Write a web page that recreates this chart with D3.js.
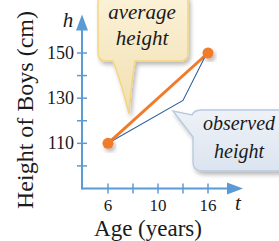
<!DOCTYPE html>
<html><head><meta charset="utf-8">
<script src="https://cdn.jsdelivr.net/npm/d3@7/dist/d3.min.js"></script>
<style>body{margin:0;background:#fff}svg{display:block}</style>
</head><body>
<script>
// ---- data ----
const ages = [6, 16];
const averageHeights = [110, 150];
const observedAges = [6, 13, 16];
const observedHeights = [110, 129, 151];
const xTickValues = [6, 8, 10, 13, 16];
const xTickLabels = {6: "6", 10: "10", 16: "16"};
const yTickValues = [100, 110, 120, 130, 140, 150];
const yTickLabels = {110: "110", 130: "130", 150: "150"};
const xTitle = "Age (years)";
const yTitle = "Height of Boys (cm)";
const avgNote = ["average", "height"];
const obsNote = ["observed", "height"];

const W = 279, H = 241;
const svg = d3.select("body").append("svg").attr("width", W).attr("height", H);
const defs = svg.append("defs");
const f = defs.append("filter").attr("id", "sh").attr("x", "-30%").attr("y", "-30%").attr("width", "160%").attr("height", "160%");
f.append("feDropShadow").attr("dx", 2).attr("dy", 3).attr("stdDeviation", 2.2).attr("flood-color", "#000").attr("flood-opacity", 0.28);
const g1 = defs.append("linearGradient").attr("id", "gy").attr("x1", 0).attr("y1", 0).attr("x2", 0).attr("y2", 1);
g1.append("stop").attr("offset", "0%").attr("stop-color", "#fbf2d8");
g1.append("stop").attr("offset", "100%").attr("stop-color", "#f1dfb0");
const g2 = defs.append("linearGradient").attr("id", "gb").attr("x1", 0).attr("y1", 0).attr("x2", 0).attr("y2", 1);
g2.append("stop").attr("offset", "0%").attr("stop-color", "#eef2f8");
g2.append("stop").attr("offset", "100%").attr("stop-color", "#dbe4ef");

// scales (axis illustration uses evenly spaced ticks)
const x = d3.scaleLinear().domain([6, 10, 16]).range([108, 158, 208]);
const y = d3.scaleLinear().domain([90, 150]).range([188.5, 53]);
const x0 = x(3.92), y0 = y(90);
const xEnd = x(20.2), yEnd = y(167);

const axisColor = "#5b9bd5";
const serif = "'Liberation Serif','Times New Roman',serif";

// ---- callouts ----
function callout(pathD, fill, stroke) {
  svg.append("path").attr("d", pathD).attr("fill", fill).attr("stroke", stroke)
    .attr("stroke-width", 1.4).attr("filter", "url(#sh)");
}
{
  const L = 98, R = 188, T = -6, B = 61, r = 8;
  const d = `M${L + r},${T} H${R - r} Q${R},${T} ${R},${T + r} V${B - r} Q${R},${B} ${R - r},${B}
    H135 Q131,85 129,114 Q122,85 113,${B} H${L + r} Q${L},${B} ${L},${B - r} V${T + r} Q${L},${T} ${L + r},${T} Z`;
  callout(d, "url(#gy)", "#f4d47e");
}
{
  const L = 193, R = 290, T = 110, B = 171, r = 9;
  const d = `M${L + r},${T} H${R - r} Q${R},${T} ${R},${T + r} V${B - r} Q${R},${B} ${R - r},${B}
    H${L + r} Q${L},${B} ${L},${B - r} V137 L173,111 L${L - 1},${T + 5} Q${L + 1},${T} ${L + r},${T} Z`;
  callout(d, "url(#gb)", "#b9c9de");
}
svg.append("g").selectAll("text").data(avgNote).join("text")
  .attr("x", 142).attr("y", (d, i) => 19 + i * 26)
  .attr("text-anchor", "middle").attr("font-family", serif).attr("font-style", "italic")
  .attr("font-size", 21).attr("fill", "#1a1a1a").text(d => d);
svg.append("g").selectAll("text").data(obsNote).join("text")
  .attr("x", 239).attr("y", (d, i) => 130 + i * 28)
  .attr("text-anchor", "middle").attr("font-family", serif).attr("font-style", "italic")
  .attr("font-size", 20).attr("fill", "#1a1a1a").text(d => d);

// ---- axes ----
const ax = svg.append("g");
ax.append("line").attr("x1", x0).attr("y1", y0).attr("x2", xEnd - 10).attr("y2", y0)
  .attr("stroke", axisColor).attr("stroke-width", 2);
ax.append("line").attr("x1", x0).attr("y1", y0 + 1).attr("x2", x0).attr("y2", yEnd + 10)
  .attr("stroke", axisColor).attr("stroke-width", 2);
ax.append("path").attr("d", `M${xEnd},${y0} L${xEnd - 16},${y0 - 6} L${xEnd - 16},${y0 + 6} Z`).attr("fill", axisColor);
ax.append("path").attr("d", `M${x0},${yEnd} L${x0 - 6},${yEnd + 16} L${x0 + 6},${yEnd + 16} Z`).attr("fill", axisColor);
ax.selectAll(".xt").data(xTickValues).join("line").attr("class", "xt")
  .attr("x1", d => x(d)).attr("x2", d => x(d)).attr("y1", y0 - 5).attr("y2", y0 + 5)
  .attr("stroke", axisColor).attr("stroke-width", 1.5);
ax.selectAll(".yt").data(yTickValues).join("line").attr("class", "yt")
  .attr("y1", d => y(d)).attr("y2", d => y(d)).attr("x1", x0 - 5).attr("x2", x0 + 5)
  .attr("stroke", axisColor).attr("stroke-width", 1.5);
ax.selectAll(".xl").data(xTickValues.filter(v => xTickLabels[v])).join("text").attr("class", "xl")
  .attr("x", d => x(d)).attr("y", y0 + 22.5).attr("text-anchor", "middle")
  .attr("font-family", serif).attr("font-size", 17).attr("fill", "#1a1a1a").text(d => xTickLabels[d]);
ax.selectAll(".yl").data(yTickValues.filter(v => yTickLabels[v])).join("text").attr("class", "yl")
  .attr("x", x0 - 8).attr("y", d => y(d) + 6).attr("text-anchor", "end")
  .attr("font-family", serif).attr("font-size", 18).attr("fill", "#1a1a1a").text(d => yTickLabels[d]);
ax.append("text").attr("x", 68).attr("y", 27).attr("text-anchor", "middle")
  .attr("font-family", serif).attr("font-style", "italic").attr("font-size", 21).attr("fill", "#1a1a1a").text("h");
ax.append("text").attr("x", 238).attr("y", 210).attr("text-anchor", "middle")
  .attr("font-family", serif).attr("font-style", "italic").attr("font-size", 21).attr("fill", "#1a1a1a").text("t");
svg.append("text").attr("x", 148).attr("y", 236).attr("text-anchor", "middle")
  .attr("font-family", serif).attr("font-size", 23).attr("fill", "#1a1a1a").text(xTitle);
svg.append("text").attr("transform", "translate(33,110) rotate(-90)").attr("text-anchor", "middle")
  .attr("font-family", serif).attr("font-size", 24).attr("fill", "#1a1a1a").text(yTitle);

// ---- lines ----
const obs = observedAges.map((a, i) => [a, observedHeights[i]]);
const avg = ages.map((a, i) => [a, averageHeights[i]]);
const line = d3.line().x(d => x(d[0])).y(d => y(d[1]));
svg.append("path").attr("d", line(obs)).attr("fill", "none").attr("stroke", "#2e609c").attr("stroke-width", 1.1);
svg.append("path").attr("d", line(avg)).attr("fill", "none").attr("stroke", "#f07b2a").attr("stroke-width", 3);
svg.append("g").selectAll("circle").data(avg).join("circle")
  .attr("cx", d => x(d[0])).attr("cy", d => y(d[1])).attr("r", 5.5)
  .attr("fill", "#f07b2a").attr("filter", "url(#sh)");
</script>
</body></html>
